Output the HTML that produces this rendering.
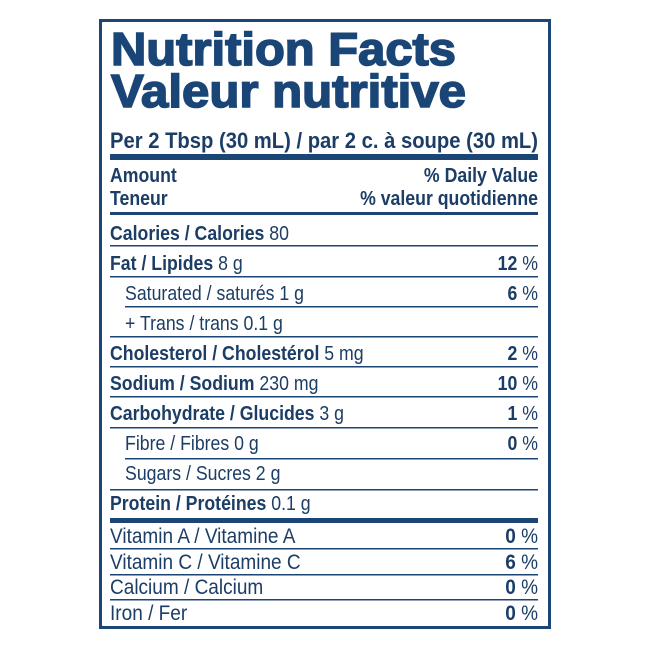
<!DOCTYPE html>
<html><head><meta charset="utf-8"><style>
html,body{margin:0;padding:0;background:#fff;}
svg{display:block;}
text{font-family:"Liberation Sans",sans-serif;fill:#1b3d66;font-size:20px;}
.b{font-weight:bold;}
.v{font-size:21.5px;}
.t{font-family:"Liberation Sans",sans-serif;font-weight:bold;font-size:46px;fill:#1a4577;stroke:#1a4577;stroke-width:1.6px;}
</style></head><body>
<svg width="650" height="650" viewBox="0 0 650 650" xmlns="http://www.w3.org/2000/svg">
<rect width="650" height="650" fill="#fff"/>
<rect x="100.5" y="20.5" width="449" height="607" fill="none" stroke="#1b4575" stroke-width="3"/>
<text class="t" x="111" y="65" textLength="345" lengthAdjust="spacingAndGlyphs">Nutrition Facts</text>
<text class="t" x="111" y="107" textLength="355" lengthAdjust="spacingAndGlyphs">Valeur nutritive</text>
<text class="b" x="110" y="148" textLength="428" lengthAdjust="spacingAndGlyphs" style="font-size:22px">Per 2 Tbsp (30 mL) / par 2 c. à soupe (30 mL)</text>
<rect x="110" y="154" width="428" height="6" fill="#1b4575"/>
<rect x="110" y="212" width="428" height="3" fill="#1b4575"/>
<rect x="110" y="245" width="428" height="1.5" fill="#1b4575"/>
<rect x="110" y="276" width="428" height="1.5" fill="#1b4575"/>
<rect x="125" y="306" width="413" height="1.5" fill="#1b4575"/>
<rect x="110" y="336" width="428" height="1.5" fill="#1b4575"/>
<rect x="110" y="366" width="428" height="1.5" fill="#1b4575"/>
<rect x="110" y="396" width="428" height="1.5" fill="#1b4575"/>
<rect x="110" y="427" width="428" height="1.5" fill="#1b4575"/>
<rect x="125" y="458" width="413" height="1.5" fill="#1b4575"/>
<rect x="110" y="489" width="428" height="1.5" fill="#1b4575"/>
<rect x="110" y="518" width="428" height="5" fill="#1b4575"/>
<rect x="110" y="548" width="428" height="1.5" fill="#1b4575"/>
<rect x="110" y="574" width="428" height="1.5" fill="#1b4575"/>
<rect x="110" y="599" width="428" height="1.5" fill="#1b4575"/>

<g transform="translate(110,0) scale(0.885,1)">
<text class="b" x="0" y="182">Amount</text>
<text class="b" x="0" y="205">Teneur</text>
<text x="0" y="240"><tspan class="b">Calories / Calories</tspan> 80</text>
<text x="0" y="270"><tspan class="b">Fat / Lipides</tspan> 8 g</text>
<text x="17" y="300">Saturated / saturés 1 g</text>
<text x="17" y="330">+ Trans / trans 0.1 g</text>
<text x="0" y="360"><tspan class="b">Cholesterol / Cholestérol</tspan> 5 mg</text>
<text x="0" y="390"><tspan class="b">Sodium / Sodium</tspan> 230 mg</text>
<text x="0" y="420"><tspan class="b">Carbohydrate / Glucides</tspan> 3 g</text>
<text x="17" y="450">Fibre / Fibres 0 g</text>
<text x="17" y="480">Sugars / Sucres 2 g</text>
<text x="0" y="510"><tspan class="b">Protein / Protéines</tspan> 0.1 g</text>
<text class="v" x="0" y="543">Vitamin A / Vitamine A</text>
<text class="v" x="0" y="569">Vitamin C / Vitamine C</text>
<text class="v" x="0" y="594">Calcium / Calcium</text>
<text class="v" x="0" y="620">Iron / Fer</text>
</g>
<g transform="translate(538,0) scale(0.885,1)" text-anchor="end">
<text class="b" x="0" y="182">% Daily Value</text>
<text class="b" x="0" y="205">% valeur quotidienne</text>
<text x="0" y="270"><tspan class="b">12</tspan> %</text>
<text x="0" y="300"><tspan class="b">6</tspan> %</text>
<text x="0" y="360"><tspan class="b">2</tspan> %</text>
<text x="0" y="390"><tspan class="b">10</tspan> %</text>
<text x="0" y="420"><tspan class="b">1</tspan> %</text>
<text x="0" y="450"><tspan class="b">0</tspan> %</text>
<text class="v" x="0" y="543"><tspan class="b">0</tspan> %</text>
<text class="v" x="0" y="569"><tspan class="b">6</tspan> %</text>
<text class="v" x="0" y="594"><tspan class="b">0</tspan> %</text>
<text class="v" x="0" y="620"><tspan class="b">0</tspan> %</text>
</g>
</svg>
</body></html>
